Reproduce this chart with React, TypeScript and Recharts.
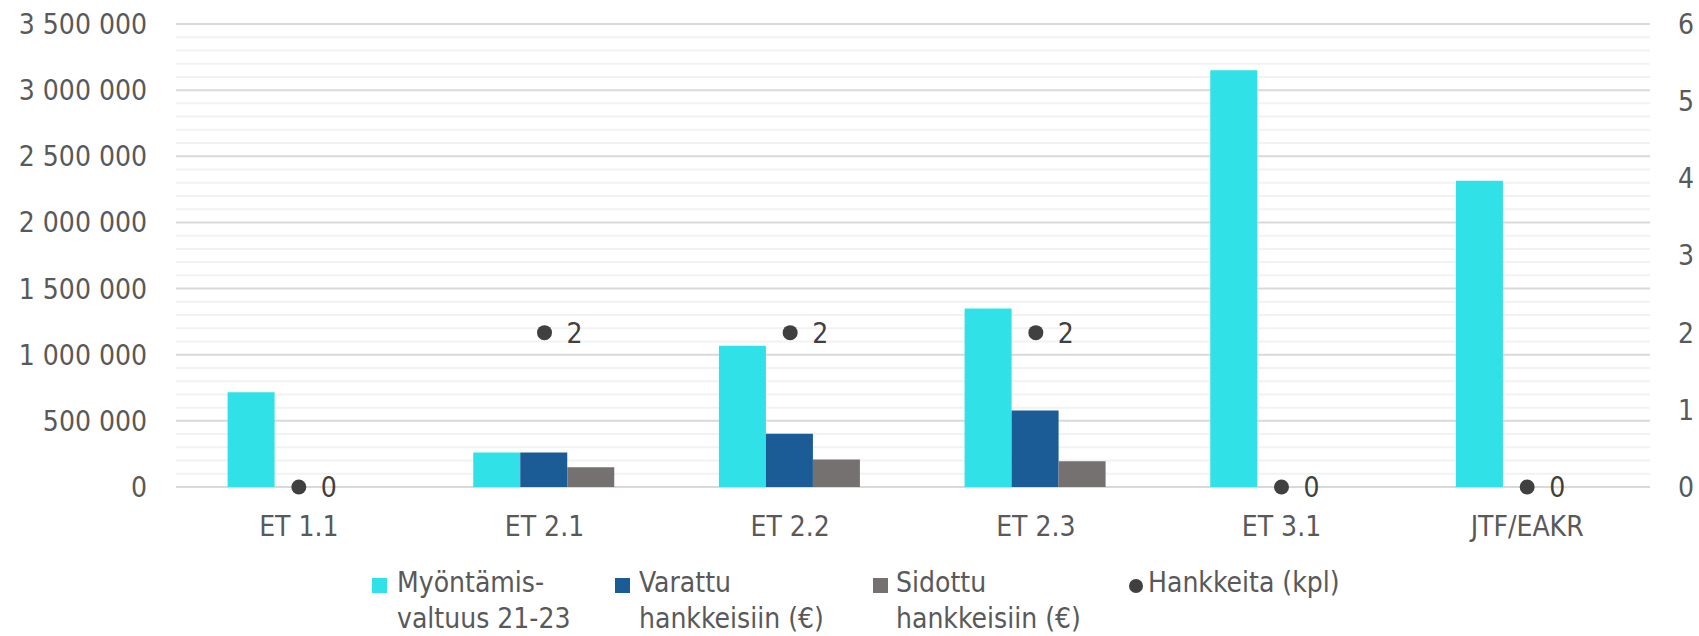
import React from 'react';
import { ComposedChart, Bar, Line, XAxis, YAxis, CartesianGrid } from 'recharts';

const categories = ['ET 1.1', 'ET 2.1', 'ET 2.2', 'ET 2.3', 'ET 3.1', 'JTF/EAKR'];
const myontamis = [717000, 260000, 1067000, 1350000, 3150000, 2315000];
const varattu = [0, 260000, 402000, 579000, 0, 0];
const sidottu = [0, 150000, 208000, 194000, 0, 0];
const hankkeita = [0, 2, 2, 2, 0, 0];

const leftTicks = [0, 500000, 1000000, 1500000, 2000000, 2500000, 3000000, 3500000];
const minorTicks = [
  100000, 200000, 300000, 400000, 600000, 700000, 800000, 900000,
  1100000, 1200000, 1300000, 1400000, 1600000, 1700000, 1800000, 1900000,
  2100000, 2200000, 2300000, 2400000, 2600000, 2700000, 2800000, 2900000,
  3100000, 3200000, 3300000, 3400000,
];
const rightTicks = [0, 1, 2, 3, 4, 5, 6];

const seriesNames = {
  myontamis: ['Myöntämis-', 'valtuus 21-23'],
  varattu: ['Varattu', 'hankkeisiin (€)'],
  sidottu: ['Sidottu', 'hankkeisiin (€)'],
  hankkeita: ['Hankkeita (kpl)'],
};

const COLORS = {
  myontamis: '#31E1E8',
  varattu: '#1B5C96',
  sidottu: '#767171',
  hankkeita: '#404040',
};

const data = categories.map((name, i) => ({
  name,
  myontamis: myontamis[i],
  varattu: varattu[i],
  sidottu: sidottu[i],
  hankkeita: hankkeita[i],
}));

const FONT = "'DejaVu Sans Condensed', 'DejaVu Sans', sans-serif";
const TEXT = '#595959';
const LEFT_MAX = 3500000;

const fmt = (v: number) => String(v).replace(/\B(?=(\d{3})+(?!\d))/g, ' ');

const minorGen = (props: any) => {
  const { yAxis, offset } = props;
  return minorTicks.map((v) =>
    yAxis && typeof yAxis.scale === 'function'
      ? yAxis.scale(v)
      : offset.top + offset.height * (1 - v / LEFT_MAX)
  );
};

const PointLabel = (props: any) => {
  const { x, y, value } = props;
  if (x == null || y == null) return null;
  return (
    <text x={x + 22} y={y} dy="0.36em" fill="#404040" fontSize={28} fontFamily={FONT}>
      {value}
    </text>
  );
};

const legendItems = [
  { key: 'myontamis', left: 372, textLeft: 397, shape: 'square' },
  { key: 'varattu', left: 615, textLeft: 639, shape: 'square' },
  { key: 'sidottu', left: 873, textLeft: 896, shape: 'square' },
  { key: 'hankkeita', left: 1129, textLeft: 1148, shape: 'circle' },
];

export default function App() {
  return (
    <div style={{ position: 'absolute', left: 0, top: 0, width: 1699, height: 636, background: '#fff' }}>
      <ComposedChart
        width={1699}
        height={636}
        data={data}
        margin={{ top: 24, right: 0, bottom: 89, left: 0 }}
        barCategoryGap="21%"
        barGap={0}
      >
        <CartesianGrid
          yAxisId="left"
          vertical={false}
          stroke="#F2F2F2"
          strokeWidth={2}
          horizontalCoordinatesGenerator={minorGen}
        />
        <CartesianGrid yAxisId="left" vertical={false} stroke="#D9D9D9" strokeWidth={2} />
        <XAxis
          dataKey="name"
          height={60}
          tickLine={false}
          axisLine={false}
          tickSize={0}
          tickMargin={29}
          interval={0}
          tick={{ fill: TEXT, fontSize: 28, fontFamily: FONT }}
        />
        <YAxis
          yAxisId="left"
          width={176}
          domain={[0, LEFT_MAX]}
          ticks={leftTicks}
          tickFormatter={fmt}
          tickLine={false}
          axisLine={false}
          tickSize={0}
          tickMargin={29}
          interval={0}
          tick={{ fill: TEXT, fontSize: 28, fontFamily: FONT }}
        />
        <YAxis
          yAxisId="right"
          orientation="right"
          width={49}
          domain={[0, 6]}
          ticks={rightTicks}
          tickLine={false}
          axisLine={false}
          tickSize={0}
          tickMargin={28}
          interval={0}
          tick={{ fill: TEXT, fontSize: 28, fontFamily: FONT, textAnchor: 'start' }}
        />
        <Bar yAxisId="left" dataKey="myontamis" fill={COLORS.myontamis} isAnimationActive={false} />
        <Bar yAxisId="left" dataKey="varattu" fill={COLORS.varattu} isAnimationActive={false} />
        <Bar yAxisId="left" dataKey="sidottu" fill={COLORS.sidottu} isAnimationActive={false} />
        <Line
          yAxisId="right"
          dataKey="hankkeita"
          stroke="none"
          dot={{ r: 7.5, fill: COLORS.hankkeita, stroke: 'none' }}
          activeDot={false}
          label={<PointLabel />}
          isAnimationActive={false}
        />
      </ComposedChart>
      {legendItems.map((it) => {
        const lines = (seriesNames as any)[it.key] as string[];
        const color = (COLORS as any)[it.key];
        return (
          <React.Fragment key={it.key}>
            {it.shape === 'square' ? (
              <div
                style={{
                  position: 'absolute',
                  left: it.left,
                  top: 578,
                  width: 15,
                  height: 15,
                  background: color,
                }}
              />
            ) : (
              <div
                style={{
                  position: 'absolute',
                  left: it.left,
                  top: 579,
                  width: 14,
                  height: 14,
                  borderRadius: '50%',
                  background: color,
                }}
              />
            )}
            <div
              style={{
                position: 'absolute',
                left: it.textLeft,
                top: 565,
                fontFamily: FONT,
                fontSize: 28,
                lineHeight: '36px',
                color: TEXT,
                whiteSpace: 'nowrap',
              }}
            >
              {lines.map((l, i) => (
                <div key={i}>{l}</div>
              ))}
            </div>
          </React.Fragment>
        );
      })}
    </div>
  );
}
